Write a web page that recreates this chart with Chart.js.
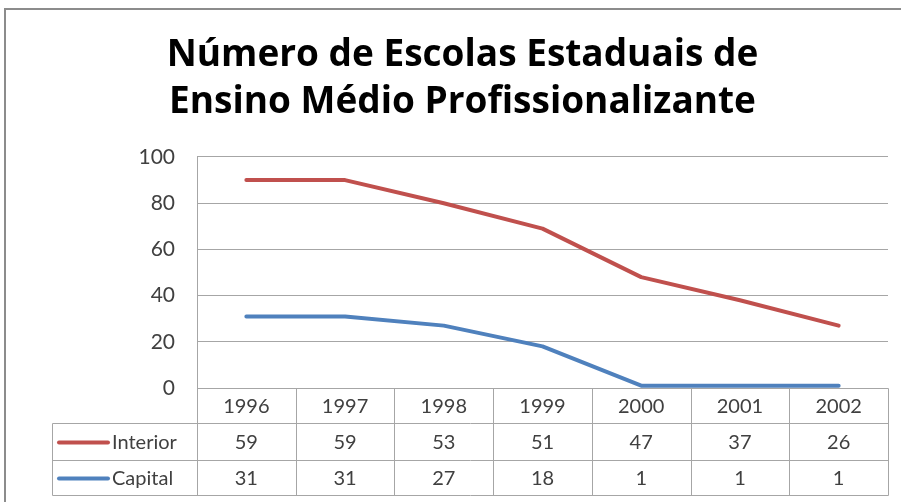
<!DOCTYPE html>
<html>
<head>
<meta charset="utf-8">
<script src="https://cdn.jsdelivr.net/npm/chart.js@4.4.1/dist/chart.umd.min.js"></script>
<style>
  html, body { margin: 0; padding: 0; background: #ffffff; }
  #wrap { width: 901px; height: 502px; position: relative; }
</style>
</head>
<body>
<div id="wrap"><canvas id="c" width="901" height="502"></canvas></div>
<script>
const categories = ['1996', '1997', '1998', '1999', '2000', '2001', '2002'];
const interior = [59, 59, 53, 51, 47, 37, 26];
const capital = [31, 31, 27, 18, 1, 1, 1];
const yTicks = [0, 20, 40, 60, 80, 100];
const titleLines = ['Número de Escolas Estaduais de', 'Ensino Médio Profissionalizante'];

const RED = '#C0504D';
const BLUE = '#4F81BD';
const GRID = '#a6a6a6';
const TEXT = '#404040';
const FONT = 'Lato, "Open Sans", sans-serif';
const TITLE_FONT = '"Open Sans", Lato, sans-serif';

const tableRows = [
  { label: 'Interior', values: interior, color: RED },
  { label: 'Capital', values: capital, color: BLUE }
];

const framePlugin = {
  id: 'frame',
  beforeDraw(chart) {
    const ctx = chart.ctx;
    ctx.save();
    ctx.fillStyle = '#ffffff';
    ctx.fillRect(0, 0, chart.width, chart.height);
    ctx.strokeStyle = '#8c8c8c';
    ctx.lineWidth = 2;
    ctx.beginPath();
    ctx.moveTo(5, chart.height);
    ctx.lineTo(5, 9);
    ctx.lineTo(chart.width, 9);
    ctx.stroke();
    ctx.restore();
  }
};

const tablePlugin = {
  id: 'dataTable',
  afterDraw(chart) {
    const ctx = chart.ctx;
    const xs = chart.scales.x;
    const area = chart.chartArea;
    const n = categories.length;
    const colW = (area.right - area.left) / n;
    const rowH = [35, 37, 35];
    const y0 = area.bottom;
    const y1 = y0 + rowH[0];
    const y2 = y1 + rowH[1];
    const y3 = y2 + rowH[2];
    const tableLeft = 52;
    ctx.save();
    ctx.strokeStyle = GRID;
    ctx.lineWidth = 1;
    const line = (xa, ya, xb, yb) => {
      ctx.beginPath();
      ctx.moveTo(Math.round(xa) + 0.5, Math.round(ya) + 0.5);
      ctx.lineTo(Math.round(xb) + 0.5, Math.round(yb) + 0.5);
      ctx.stroke();
    };
    line(area.left, y0, area.right, y0);
    line(tableLeft, y1, area.right, y1);
    line(tableLeft, y2, area.right, y2);
    line(tableLeft, y3, area.right, y3);
    line(tableLeft, y1, tableLeft, y3);
    for (let i = 0; i <= n; i++) {
      const x = area.left + i * colW;
      line(x, y0, x, y3);
    }
    ctx.fillStyle = TEXT;
    ctx.font = '20px ' + FONT;
    ctx.textAlign = 'center';
    ctx.textBaseline = 'middle';
    categories.forEach((c, i) => {
      ctx.fillText(c, xs.getPixelForValue(i), (y0 + y1) / 2 + 1);
    });
    const rowYs = [(y1 + y2) / 2 + 1, (y2 + y3) / 2 + 1];
    tableRows.forEach((r, ri) => {
      const cy = rowYs[ri];
      ctx.strokeStyle = r.color;
      ctx.lineWidth = 4;
      ctx.lineCap = 'round';
      ctx.beginPath();
      ctx.moveTo(59, cy);
      ctx.lineTo(108, cy);
      ctx.stroke();
      ctx.fillStyle = TEXT;
      ctx.textAlign = 'left';
      ctx.fillText(r.label, 112, cy);
      ctx.textAlign = 'center';
      r.values.forEach((v, i) => {
        ctx.fillText(String(v), xs.getPixelForValue(i), cy);
      });
    });
    ctx.restore();
  }
};

new Chart(document.getElementById('c'), {
  type: 'line',
  data: {
    labels: categories,
    datasets: [
      { label: 'Capital', data: capital, borderColor: BLUE, backgroundColor: BLUE, fill: false },
      { label: 'Interior', data: interior, borderColor: RED, backgroundColor: RED, fill: false }
    ]
  },
  options: {
    responsive: false,
    animation: false,
    devicePixelRatio: 1,
    layout: { padding: { left: 37, right: 13, top: 0, bottom: 7 } },
    elements: {
      line: { borderWidth: 4, tension: 0, borderCapStyle: 'round', borderJoinStyle: 'round' },
      point: { radius: 0, hoverRadius: 0 }
    },
    plugins: {
      legend: { display: false },
      tooltip: { enabled: false },
      title: {
        display: true,
        text: titleLines,
        color: '#000000',
        font: { family: TITLE_FONT, size: 37, weight: 'bold', lineHeight: 1.27 },
        padding: { top: 32, bottom: 31 }
      }
    },
    scales: {
      x: {
        type: 'category',
        offset: true,
        grid: { display: false },
        border: { display: false },
        ticks: { display: false },
        afterFit(scale) { scale.height = 107; }
      },
      y: {
        stacked: true,
        min: 0,
        max: 100,
        afterBuildTicks(scale) { scale.ticks = yTicks.map(v => ({ value: v })); },
        grid: { color: GRID, drawTicks: false, lineWidth: 1 },
        border: { display: true, color: GRID, width: 1 },
        ticks: { color: TEXT, font: { family: FONT, size: 21 }, padding: 22 },
        afterFit(scale) { scale.width = 160; }
      }
    }
  },
  plugins: [framePlugin, tablePlugin]
});
</script>
</body>
</html>
